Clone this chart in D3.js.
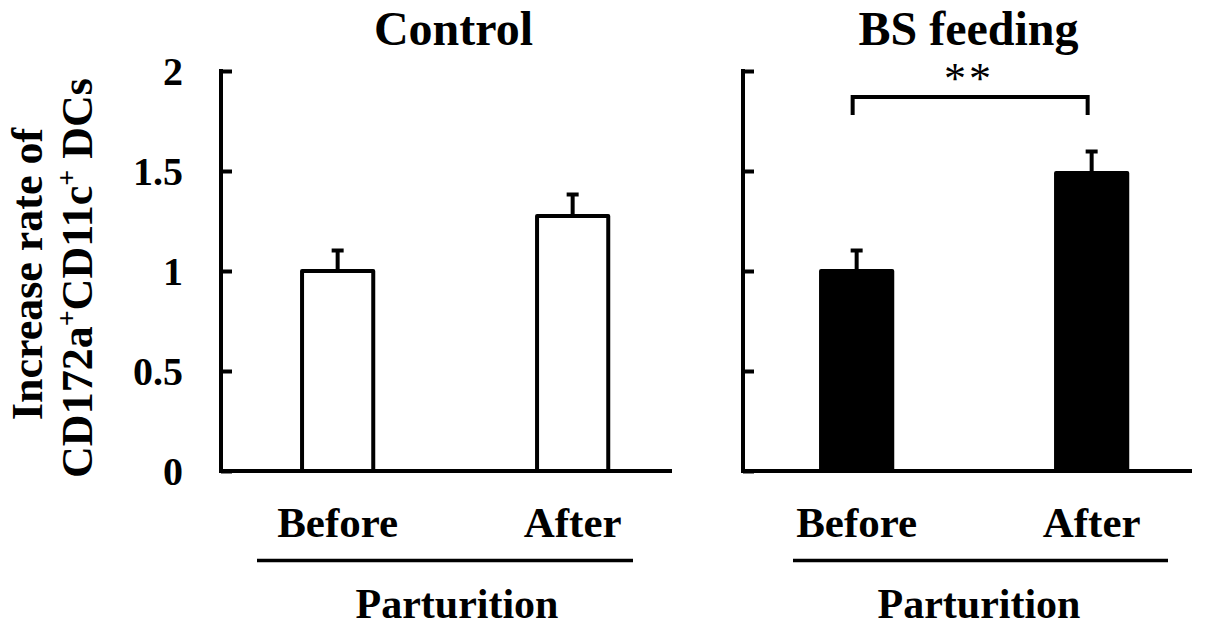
<!DOCTYPE html>
<html><head><meta charset="utf-8">
<script src="https://cdn.jsdelivr.net/npm/d3@7"></script>
<style>body{margin:0;background:#fff}svg{display:block}text{font-family:"Liberation Serif","Times New Roman",serif;font-weight:bold;fill:#000}</style>
</head><body><svg id="c" width="1211" height="626"></svg>
<script>
const categories = ["Before", "After"];
const panelTitles = ["Control", "BS feeding"];
const controlMeans = [1.0, 1.275];
const controlErrors = [0.11, 0.115];
const bsMeans = [1.0, 1.49];
const bsErrors = [0.11, 0.115];
const yTicks = [0, 0.5, 1, 1.5, 2];
const yTickLabels = ["0", "0.5", "1", "1.5", "2"];
const groupLabel = "Parturition";
const significance = "**";

const svg = d3.select("#c");
const y = d3.scaleLinear().domain([0, 2]).range([471, 71]);

const panels = [
  {title: panelTitles[0], means: controlMeans, errs: controlErrors, fill: "#fff", axisX: 221, start: 222.5, axisEnd: 672, tickLabels: true, ulStart: 257, ulEnd: 633, groupX: 457, titleX: 453.5},
  {title: panelTitles[1], means: bsMeans, errs: bsErrors, fill: "#000", axisX: 743, start: 741.5, axisEnd: 1192, tickLabels: false, ulStart: 793, ulEnd: 1168, groupX: 979, titleX: 968.5}
];

panels.forEach((p, pi) => {
  const x = d3.scaleBand().domain(categories).range([p.start, p.start + 235 * 1.98]).paddingInner(0.68).paddingOuter(0.33);
  const g = svg.append("g");
  const yAxis = d3.axisRight(y).tickValues(yTicks).tickSize(11).tickFormat("");
  const ya = g.append("g").attr("transform", `translate(${p.axisX},0)`).call(yAxis);
  ya.select(".domain").remove();
  ya.selectAll(".tick line").attr("stroke", "#000").attr("stroke-width", 4);
  g.append("line").attr("x1", p.axisX).attr("x2", p.axisX).attr("y1", y(2) - 2).attr("y2", y(0) + 2).attr("stroke", "#000").attr("stroke-width", 4);
  if (p.tickLabels) {
    g.selectAll(".tl").data(yTicks).enter().append("text")
      .attr("x", 183).attr("y", d => y(d) + 14).attr("text-anchor", "end")
      .style("font-size", "40px").text((d, i) => yTickLabels[i]);
  }
  g.selectAll(".bar").data(p.means).enter().append("rect")
    .attr("x", (d, i) => x(categories[i]) + 2).attr("width", x.bandwidth() - 4)
    .attr("y", d => y(d)).attr("height", d => y(0) - y(d))
    .attr("fill", p.fill).attr("stroke", "#000").attr("stroke-width", 4).attr("stroke-linejoin", "round");
  p.means.forEach((m, i) => {
    const cx = x(categories[i]) + x.bandwidth() / 2;
    g.append("line").attr("x1", cx).attr("x2", cx).attr("y1", y(m)).attr("y2", y(m + p.errs[i])).attr("stroke", "#000").attr("stroke-width", 4);
    g.append("line").attr("x1", cx - 6).attr("x2", cx + 6).attr("y1", y(m + p.errs[i]) + 1.5).attr("y2", y(m + p.errs[i]) + 1.5).attr("stroke", "#000").attr("stroke-width", 4);
  });
  g.append("line").attr("x1", p.axisX - 2).attr("x2", p.axisEnd).attr("y1", y(0)).attr("y2", y(0)).attr("stroke", "#000").attr("stroke-width", 4);
  g.selectAll(".cl").data(categories).enter().append("text")
    .attr("x", d => x(d) + x.bandwidth() / 2).attr("y", 537).attr("text-anchor", "middle")
    .style("font-size", "43px").text(d => d);
  g.append("line").attr("x1", p.ulStart).attr("x2", p.ulEnd).attr("y1", 560.5).attr("y2", 560.5).attr("stroke", "#000").attr("stroke-width", 3.5);
  g.append("text").attr("x", p.groupX).attr("y", 618).attr("text-anchor", "middle").style("font-size", "42px").text(groupLabel);
  g.append("text").attr("x", p.titleX).attr("y", 45).attr("text-anchor", "middle").style("font-size", "48px").text(p.title);
  if (pi === 1) {
    const cx0 = x(categories[0]) + x.bandwidth() / 2, cx1 = x(categories[1]) + x.bandwidth() / 2;
    const bx0 = cx0 - 4, bx1 = cx1 - 4;
    g.append("path").attr("d", `M${bx0},115V97H${bx1}V115`).attr("fill", "none").attr("stroke", "#000").attr("stroke-width", 4);
    g.append("text").attr("x", 969).attr("y", 93).attr("text-anchor", "middle")
      .style("font-size", "44px").style("font-weight", "normal").style("letter-spacing", "3px").text(significance);
  }
});

svg.append("text").attr("transform", "translate(42,274) rotate(-90)").attr("text-anchor", "middle").style("font-size", "44px").text("Increase rate of");
const yt2 = svg.append("text").attr("transform", "translate(92,278) rotate(-90)").attr("text-anchor", "middle").style("font-size", "44px");
yt2.append("tspan").text("CD172a");
yt2.append("tspan").attr("dy", -16).style("font-size", "28px").text("+");
yt2.append("tspan").attr("dy", 16).text("CD11c");
yt2.append("tspan").attr("dy", -16).style("font-size", "28px").text("+");
yt2.append("tspan").attr("dy", 16).text(" DCs");
</script></body></html>
